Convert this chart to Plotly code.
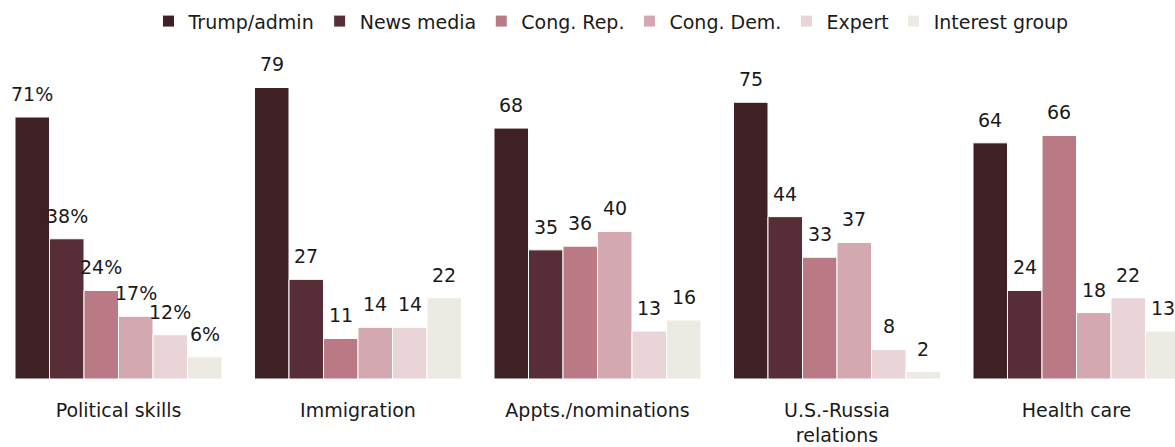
import plotly.graph_objects as go

# Topics and shares by source type
topics = ["Political skills", "Immigration", "Appts./nominations", "U.S.-Russia<br>relations", "Health care"]
sources = ["Trump/admin", "News media", "Cong. Rep.", "Cong. Dem.", "Expert", "Interest group"]
trump_admin = [71, 79, 68, 75, 64]
news_media = [38, 27, 35, 44, 24]
cong_rep = [24, 11, 36, 33, 66]
cong_dem = [17, 14, 40, 37, 18]
expert = [12, 14, 13, 8, 22]
interest_group = [6, 22, 16, 2, 13]

series = [trump_admin, news_media, cong_rep, cong_dem, expert, interest_group]
colors = ["#3e2025", "#572e37", "#b97a85", "#d3a8b0", "#e9d4d8", "#edeae3"]

FONT = "DejaVu Sans, Verdana, sans-serif"
bargap = 0.1357
n = len(sources)
bar_w = (1 - bargap) / n

x = list(range(len(topics)))
fig = go.Figure()
annotations = []
for k, (name, vals, col) in enumerate(zip(sources, series, colors)):
    fig.add_trace(go.Bar(
        x=x, y=vals, name=name,
        marker=dict(color=col, line=dict(color="white", width=1)),
        cliponaxis=False,
    ))
    # value labels above each bar
    for i, v in enumerate(vals):
        annotations.append(dict(
            x=i + (k - (n - 1) / 2) * bar_w, y=v, xref="x", yref="y",
            text=f"{v}%" if i == 0 else f"{v}",
            showarrow=False, yanchor="bottom", yshift=10,
            font=dict(size=19, color="#1a1a1a", family=FONT),
        ))

x0 = -118.5 / 239.5
fig.update_layout(
    width=1175, height=447,
    barmode="group", bargap=bargap, bargroupgap=0,
    margin=dict(l=0, r=0, t=60, b=68),
    paper_bgcolor="white", plot_bgcolor="white",
    font=dict(family=FONT, size=19, color="#1a1a1a"),
    showlegend=True,
    annotations=annotations,
    legend=dict(orientation="h", x=0.52, xanchor="center", y=0.995, yanchor="top",
                yref="container", font=dict(size=19, family=FONT), itemwidth=30,
                traceorder="normal"),
    xaxis=dict(range=[x0, x0 + 1175 / 239.5], tickmode="array", tickvals=x,
               ticktext=topics, showgrid=False, zeroline=False, showline=False,
               ticks="", ticklabelstandoff=18, tickfont=dict(size=19, family=FONT)),
    yaxis=dict(range=[0, 86.45], visible=False, showgrid=False, zeroline=False),
)

fig.write_html("out.html")
